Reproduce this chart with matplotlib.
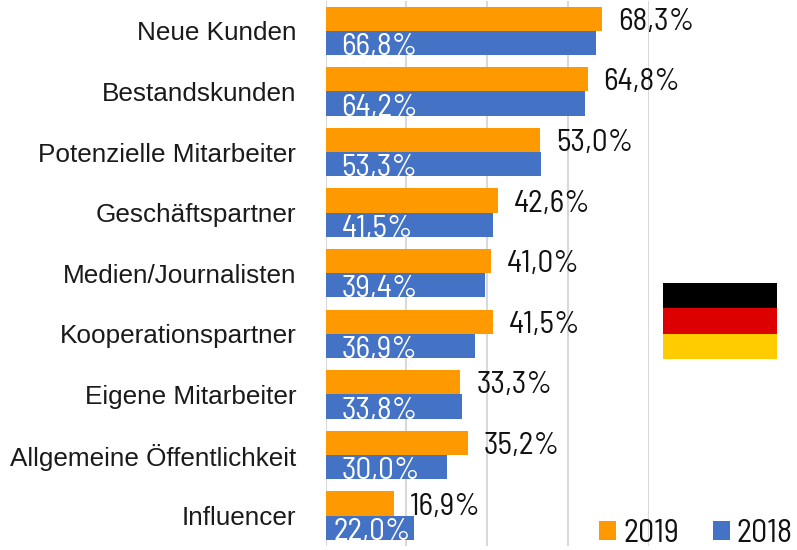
import matplotlib
matplotlib.use("Agg")
import matplotlib.pyplot as plt
from matplotlib.patches import Rectangle
from matplotlib.font_manager import FontProperties

categories = ["Neue Kunden", "Bestandskunden", "Potenzielle Mitarbeiter", "Geschäftspartner",
              "Medien/Journalisten", "Kooperationspartner", "Eigene Mitarbeiter",
              "Allgemeine Öffentlichkeit", "Influencer"]
values_2019 = [68.3, 64.8, 53.0, 42.6, 41.0, 41.5, 33.3, 35.2, 16.9]
values_2018 = [66.8, 64.2, 53.3, 41.5, 39.4, 36.9, 33.8, 30.0, 22.0]
x_ticks = [0, 20, 40, 60, 80]

ORANGE = "#FF9900"
BLUE = "#4472C4"
W, H = 797, 550
px = 72 / 100

VALUE_FONT = dict(family=["Barlow Semi Condensed", "Archivo Narrow", "Liberation Sans"], weight=400)
plt.rcParams["font.family"] = ["Liberation Sans", "DejaVu Sans"]

fig = plt.figure(figsize=(W / 100, H / 100), dpi=100)
ax = fig.add_axes([325.5 / W, 1 - 546 / H, (649 - 325.5) / W, 545.5 / H])

ys = list(range(len(categories)))
bars19 = ax.barh([y - 0.2 for y in ys], values_2019, height=0.4, color=ORANGE, label="2019", zorder=2)
bars18 = ax.barh([y + 0.2 for y in ys], values_2018, height=0.4, color=BLUE, label="2018", zorder=2)

ax.set_xlim(0, 80)
ax.set_ylim(len(categories) - 0.5, -0.5)
ax.set_xticks(x_ticks)
ax.set_yticks(ys)
ax.set_yticklabels(categories, fontsize=18.8, color="#1a1a1a")
ax.tick_params(axis="y", length=0, pad=21)
ax.tick_params(axis="x", length=0, labelbottom=False)
ax.grid(axis="x", color="#D9D9D9", linewidth=1.5, zorder=0)
ax.set_axisbelow(True)
for s in ax.spines.values():
    s.set_visible(False)

fmt = lambda v: f"{v:.1f}%".replace(".", ",")

for y, v in zip(ys, values_2019):
    ax.annotate(fmt(v), xy=(v, y), xytext=(16 * px, 1 * px), textcoords="offset points",
                ha="left", va="baseline", fontsize=22.5, color="#111111",
                annotation_clip=False, zorder=4, **VALUE_FONT)

for i, (y, v, bar) in enumerate(zip(ys, values_2018, bars18)):
    left = 8 if i == len(ys) - 1 else 16
    t = ax.annotate(fmt(v), xy=(0, y + 0.4), xytext=(left * px, 0), textcoords="offset points",
                    ha="left", va="baseline", fontsize=22.5, color="#FFFFFF",
                    annotation_clip=False, zorder=4, **VALUE_FONT)
    t.set_clip_path(bar)
    t.set_clip_on(True)

# Flag
for top, bottom, col in [(283, 308, "#000000"), (308, 334, "#DD0000"), (334, 359, "#FFCC00")]:
    fig.add_artist(Rectangle((663 / W, 1 - bottom / H), 114 / W, (bottom - top) / H,
                             transform=fig.transFigure, facecolor=col, edgecolor="none", zorder=5))

# Legend
leg = fig.legend(handles=[bars19, bars18], labels=["2019", "2018"], ncol=2, frameon=False,
                 loc="lower left", bbox_to_anchor=(599 / W, 1 - 549 / H),
                 prop=FontProperties(size=23, **VALUE_FONT),
                 handlelength=0.54, handleheight=0.54, handletextpad=0.22, columnspacing=1.05,
                 borderpad=0, borderaxespad=0, labelcolor="#111111")

fig.savefig("out.png", dpi=100, facecolor="white")
